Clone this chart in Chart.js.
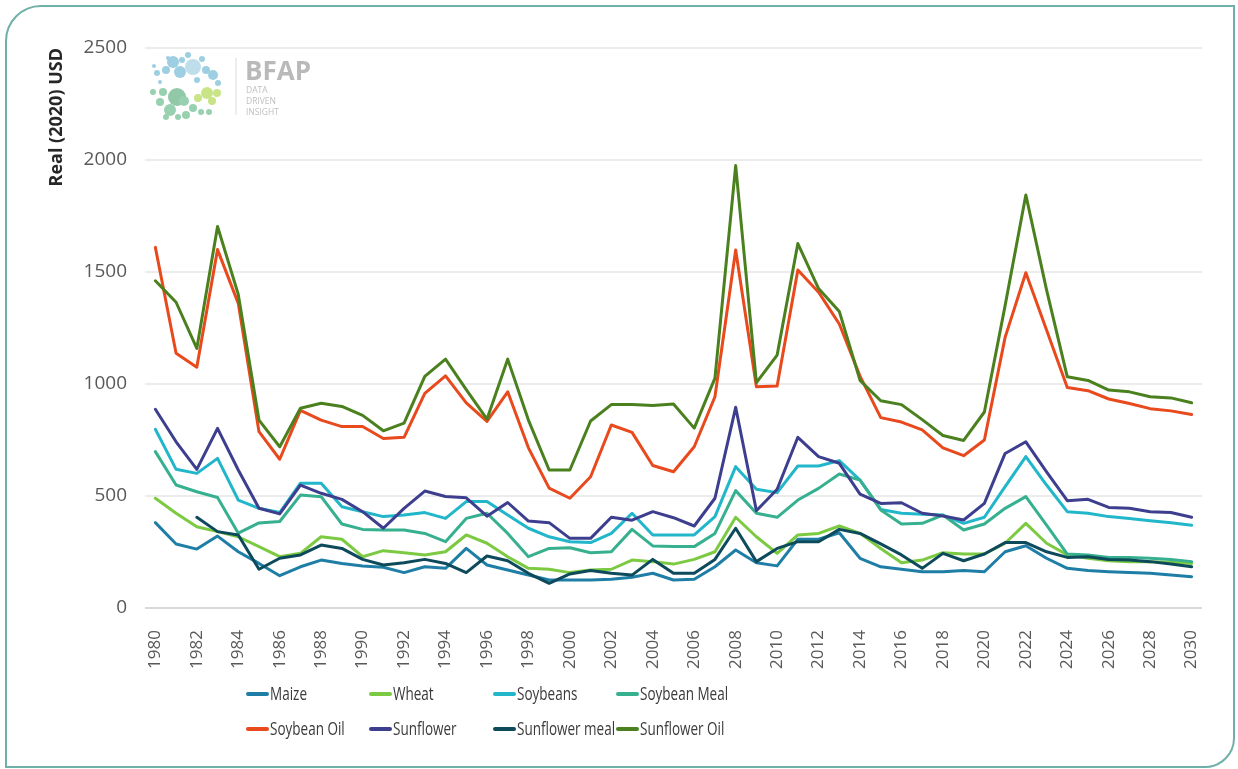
<!DOCTYPE html>
<html>
<head>
<meta charset="utf-8">
<script src="https://cdn.jsdelivr.net/npm/chart.js@4.4.1/dist/chart.umd.min.js"></script>
<style>
  html, body { margin: 0; padding: 0; background: #fff; }
  body { width: 1238px; height: 769px; position: relative; overflow: hidden; font-family: "Open Sans", sans-serif; }
  #frame {
    position: absolute; left: 5px; top: 5px; width: 1226px; height: 759px;
    border: 2px solid #6fb0aa; border-top-left-radius: 36px; border-bottom-right-radius: 30px;
  }
  #graph { position: absolute; left: 0; top: 0; }
  #logo { position: absolute; left: 0; top: 0; pointer-events: none; }
  .legend { position: absolute; left: 0; top: 0; width: 1238px; height: 769px; pointer-events: none; }
  .item { position: absolute; font-size: 18px; color: #3a3a3a; white-space: nowrap; line-height: 20px; }
  .swatch { display: inline-block; width: 23px; height: 4px; border-radius: 2px; vertical-align: middle; margin-right: 1px; position: relative; top: -1px; }
  .name { display: inline-block; transform: scaleX(0.75); transform-origin: 0 50%; }
</style>
</head>
<body>
<div id="frame"></div>
<canvas id="graph" width="1238" height="680"></canvas>
<svg id="logo" width="1238" height="200">
  <g fill="#8cc6dd" opacity="0.85">
    <circle cx="173" cy="62" r="6"/><circle cx="180" cy="72" r="6"/><circle cx="193" cy="67" r="8" fill="#b3d9e8"/>
    <circle cx="166" cy="70" r="4"/><circle cx="157" cy="73" r="3"/><circle cx="188" cy="55" r="3"/>
    <circle cx="202" cy="59" r="3"/><circle cx="213" cy="75" r="5"/><circle cx="206" cy="70" r="4"/>
    <circle cx="160" cy="82" r="2"/><circle cx="218" cy="83" r="3"/><circle cx="182" cy="60" r="3"/>
    <circle cx="168" cy="58" r="2"/><circle cx="197" cy="80" r="3"/><circle cx="154" cy="66" r="2"/>
  </g>
  <g fill="#86c9a3" opacity="0.85">
    <circle cx="177" cy="97" r="9" fill="#7dbf99"/><circle cx="163" cy="92" r="4"/><circle cx="153" cy="92" r="3"/>
    <circle cx="170" cy="110" r="6"/><circle cx="160" cy="102" r="4"/><circle cx="184" cy="101" r="5"/>
    <circle cx="186" cy="115" r="4"/><circle cx="178" cy="117" r="3"/><circle cx="193" cy="108" r="4"/>
    <circle cx="201" cy="112" r="3"/><circle cx="209" cy="112" r="3"/><circle cx="166" cy="117" r="3"/>
  </g>
  <g fill="#c2e27a" opacity="0.9">
    <circle cx="207" cy="93" r="6"/><circle cx="217" cy="93" r="4"/><circle cx="198" cy="98" r="4"/><circle cx="212" cy="101" r="4"/>
  </g>
  <line x1="236" y1="58" x2="236" y2="115" stroke="#dcdcdc" stroke-width="1"/>
  <text x="245" y="80" font-family="Open Sans" font-weight="700" font-size="26" fill="#b9b9b9">BFAP</text>
  <text x="246" y="93" font-family="Open Sans" font-size="8.5" fill="#c0c0c0">DATA</text>
  <text x="246" y="104" font-family="Open Sans" font-size="8.5" fill="#c0c0c0">DRIVEN</text>
  <text x="246" y="115" font-family="Open Sans" font-size="8.5" fill="#c0c0c0">INSIGHT</text>
</svg>
<div class="legend" id="legend"></div>
<script>
// years 1980 - 2030
var years = [];
for (var y = 1980; y <= 2030; y++) years.push(String(y));

var maize = [381, 286, 263, 321, 251, 199, 144, 184, 214, 199,
  188, 182, 158, 184, 177, 266, 192, 170, 147, 125,
  125, 125, 128, 137, 155, 125, 128, 184, 259, 202,
  188, 307, 307, 336, 222, 184, 173, 162, 162, 167,
  162, 251, 278, 222, 177, 167, 162, 158, 155, 147, 140];

var wheat = [490, 423, 363, 341, 318, 274, 229, 244, 318, 307,
  229, 256, 247, 237, 251, 326, 289, 229, 177, 173,
  158, 170, 173, 214, 207, 196, 217, 251, 405, 318,
  244, 326, 333, 366, 333, 266, 202, 214, 247, 241,
  241, 289, 378, 289, 237, 222, 211, 207, 207, 204, 199];

var soybeans = [798, 619, 601, 668, 482, 445, 426, 557, 557, 452,
  430, 408, 415, 426, 400, 475, 475, 415, 356, 318,
  296, 292, 333, 423, 326, 326, 326, 408, 631, 530,
  515, 634, 634, 658, 571, 440, 423, 418, 415, 378,
  405, 542, 676, 549, 430, 423, 408, 400, 390, 381, 369];

var soybeanMeal = [698, 549, 519, 493, 334, 380, 386, 504, 497, 375,
  351, 348, 348, 333, 296, 400, 423, 333, 229, 266,
  269, 247, 251, 351, 277, 274, 274, 333, 524, 423,
  405, 482, 534, 598, 571, 438, 375, 378, 415, 348,
  375, 445, 497, 370, 241, 237, 226, 226, 222, 217, 207];

var soybeanOil = [1610, 1137, 1075, 1600, 1360, 787, 664, 882, 839, 810,
  810, 757, 762, 958, 1036, 916, 833, 965, 715, 535,
  490, 586, 817, 784, 636, 608, 720, 943, 1598, 988,
  991, 1509, 1410, 1268, 1035, 850, 830, 795, 715, 680,
  750, 1208, 1497, 1241, 984, 970, 933, 913, 890, 880, 864];

var sunflower = [887, 742, 619, 802, 616, 445, 420, 549, 512, 485,
  430, 356, 445, 522, 498, 492, 410, 471, 388, 381,
  311, 311, 405, 392, 430, 403, 366, 490, 896, 434,
  530, 762, 676, 646, 508, 467, 470, 423, 411, 393,
  467, 690, 742, 608, 479, 485, 449, 445, 430, 426, 405];

var sunflowerMeal = [null, null, 405, 341, 326, 173, 222, 237, 281, 266,
  217, 192, 202, 217, 199, 158, 232, 211, 155, 110,
  152, 167, 155, 147, 217, 155, 155, 217, 356, 207,
  266, 296, 296, 351, 333, 286, 237, 177, 244, 211,
  241, 292, 292, 251, 226, 229, 217, 214, 207, 196, 184];

var sunflowerOil = [1461, 1365, 1159, 1703, 1400, 839, 720, 892, 914, 900,
  860, 791, 825, 1034, 1111, 975, 843, 1111, 839, 616,
  616, 835, 908, 908, 904, 911, 803, 1026, 1975, 1006,
  1129, 1627, 1426, 1324, 1016, 925, 908, 841, 770, 748,
  875, 1350, 1844, 1420, 1032, 1016, 973, 965, 943, 938, 916];

var yTicks = [0, 500, 1000, 1500, 2000, 2500];

var seriesNames = ['Maize', 'Wheat', 'Soybeans', 'Soybean Meal', 'Soybean Oil', 'Sunflower', 'Sunflower meal', 'Sunflower Oil'];
var seriesData = [maize, wheat, soybeans, soybeanMeal, soybeanOil, sunflower, sunflowerMeal, sunflowerOil];
var seriesColors = ['#1f7ea6', '#7cc942', '#21b6c9', '#36b08f', '#e8491d', '#3d3f8e', '#0d4a5b', '#4b801f'];

var datasets = seriesNames.map(function (name, i) {
  return {
    label: name,
    data: seriesData[i],
    borderColor: seriesColors[i],
    backgroundColor: seriesColors[i],
    borderWidth: 3,
    pointRadius: 0,
    tension: 0,
    fill: false,
    borderJoinStyle: 'round',
    borderCapStyle: 'round',
    order: seriesNames.length - i
  };
});

var ctx = document.getElementById('graph').getContext('2d');
new Chart(ctx, {
  type: 'line',
  data: { labels: years, datasets: datasets },
  options: {
    responsive: false,
    animation: false,
    layout: { padding: { left: 0, top: 48, right: 36, bottom: 0 } },
    plugins: { legend: { display: false }, tooltip: { enabled: false } },
    scales: {
      x: {
        offset: true,
        grid: { display: false },
        border: { display: false },
        afterFit: function (scale) { scale.height = 72; },
        ticks: {
          autoSkip: false,
          minRotation: 90,
          maxRotation: 90,
          padding: 14,
          color: '#595959',
          font: { family: 'Open Sans', size: 17 },
          callback: function (value, index) {
            return index % 2 === 0 ? this.getLabelForValue(value) : '';
          }
        }
      },
      y: {
        min: 0,
        max: 2500,
        afterFit: function (scale) { scale.width = 145; },
        afterBuildTicks: function (scale) {
          scale.ticks = yTicks.map(function (v) { return { value: v }; });
        },
        grid: {
          drawTicks: false,
          lineWidth: 2,
          color: function (c) { return c.tick && c.tick.value === 0 ? '#d9d9d9' : '#ececec'; }
        },
        border: { display: false },
        ticks: {
          padding: 18,
          color: '#595959',
          font: { family: 'Open Sans', size: 19 },
          callback: function (value) { return String(value); }
        },
        title: {
          display: true,
          text: 'Real (2020) USD',
          align: 'end',
          color: '#262626',
          padding: { top: 46, bottom: 0 },
          font: { family: 'Open Sans', size: 18, weight: '700' }
        }
      }
    }
  }
});

// legend, 4 columns x 2 rows as in the original
var legendEl = document.getElementById('legend');
var colX = [246, 369, 493, 616];
var rowY = [683, 718];
seriesNames.forEach(function (name, i) {
  var item = document.createElement('div');
  item.className = 'item';
  item.style.left = colX[i % 4] + 'px';
  item.style.top = rowY[Math.floor(i / 4)] + 'px';
  var sw = document.createElement('span');
  sw.className = 'swatch';
  sw.style.background = seriesColors[i];
  var txt = document.createElement('span');
  txt.className = 'name';
  txt.textContent = name;
  item.appendChild(sw);
  item.appendChild(txt);
  legendEl.appendChild(item);
});
</script>
</body>
</html>
